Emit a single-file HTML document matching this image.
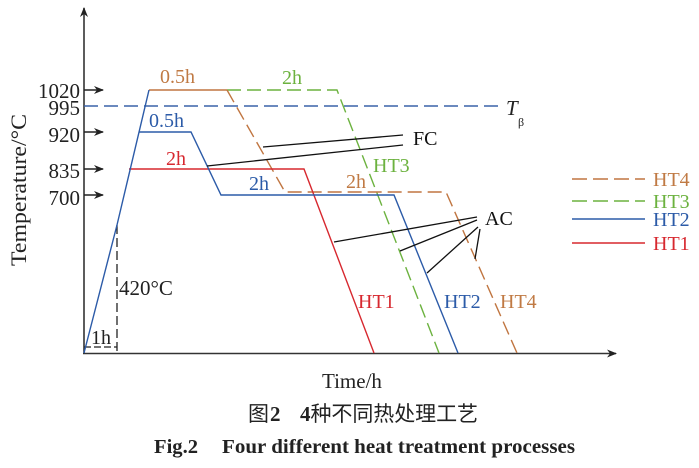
<!DOCTYPE html>
<html>
<head>
<meta charset="utf-8">
<style>
html,body{margin:0;padding:0;background:#fff;}
svg{display:block;}
text{font-family:"Liberation Serif","Noto Serif CJK SC",serif;}
</style>
</head>
<body>
<svg width="699" height="468" viewBox="0 0 699 468" xmlns="http://www.w3.org/2000/svg">
<rect width="699" height="468" fill="#fff"/>
<defs>
<marker id="ah" markerWidth="10" markerHeight="8" refX="9" refY="4" orient="auto" markerUnits="userSpaceOnUse">
<path d="M0,0 L10,4 L0,8 L3,4 Z" fill="#222"/>
</marker>
</defs>

<!-- axes -->
<line x1="84" y1="354" x2="84" y2="8" stroke="#333" stroke-width="1.6" marker-end="url(#ah)"/>
<line x1="83" y1="353.5" x2="616" y2="353.5" stroke="#333" stroke-width="1.6" marker-end="url(#ah)"/>

<!-- tick arrows -->
<g stroke="#222" stroke-width="1.4">
<line x1="84" y1="90" x2="103" y2="90" marker-end="url(#ah)"/>
<line x1="84" y1="132" x2="103" y2="132" marker-end="url(#ah)"/>
<line x1="84" y1="169" x2="103" y2="169" marker-end="url(#ah)"/>
<line x1="84" y1="195" x2="103" y2="195" marker-end="url(#ah)"/>
</g>

<!-- tick labels -->
<g font-size="21" fill="#222" text-anchor="end">
<text x="80" y="98">1020</text>
<text x="80" y="115">995</text>
<text x="80" y="142">920</text>
<text x="80" y="178">835</text>
<text x="80" y="205">700</text>
</g>

<!-- y label -->
<text transform="translate(26,190) rotate(-90)" font-size="22" fill="#222" text-anchor="middle" textLength="152" lengthAdjust="spacingAndGlyphs">Temperature/°C</text>

<!-- T beta line -->
<line x1="84" y1="106" x2="502" y2="106" stroke="#3a62a8" stroke-width="1.5" stroke-dasharray="14,6"/>
<text x="506" y="115" font-size="21" font-style="italic" fill="#222">T</text>
<text x="518" y="126" font-size="12" fill="#222">β</text>

<!-- 420C dashed markers -->
<line x1="117" y1="225" x2="117" y2="353" stroke="#222" stroke-width="1.3" stroke-dasharray="9,4"/>
<line x1="84" y1="347" x2="117" y2="347" stroke="#222" stroke-width="1.3" stroke-dasharray="7,3"/>
<text x="91" y="344" font-size="20" fill="#222">1h</text>
<text x="119" y="295" font-size="21" fill="#222">420°C</text>

<!-- green HT3 -->
<polyline points="227,90 337,90 439,353" fill="none" stroke="#6cb23f" stroke-width="1.4" stroke-dasharray="14,6"/>
<!-- orange HT4 -->
<line x1="149" y1="90" x2="227" y2="90" stroke="#c07540" stroke-width="1.5"/>
<polyline points="227,90 285,192 446,192 517,353" fill="none" stroke="#c07540" stroke-width="1.4" stroke-dasharray="14,6"/>
<!-- red HT1 -->
<polyline points="129,169 304,169 374,353" fill="none" stroke="#d7282f" stroke-width="1.4"/>
<!-- blue HT2 -->
<polyline points="84,353 117,225 149,90" fill="none" stroke="#2c5ba8" stroke-width="1.4"/>
<polyline points="139,132 191,132 221,195 394,195 458,353" fill="none" stroke="#2c5ba8" stroke-width="1.4"/>

<!-- leader lines -->
<g stroke="#111" stroke-width="1.3">
<line x1="263" y1="147" x2="403" y2="135"/>
<line x1="207" y1="166" x2="403" y2="145"/>
<line x1="334" y1="242" x2="477" y2="217"/>
<line x1="400" y1="251" x2="477" y2="220"/>
<line x1="427" y1="273" x2="478" y2="227"/>
<line x1="475" y1="259" x2="480" y2="229"/>
</g>

<!-- in-plot labels -->
<g font-size="20">
<text x="160" y="83" fill="#c07a44">0.5h</text>
<text x="282" y="84" fill="#6cb23f">2h</text>
<text x="149" y="127" fill="#2c5ba8">0.5h</text>
<text x="166" y="165" fill="#d7282f">2h</text>
<text x="249" y="190" fill="#2c5ba8">2h</text>
<text x="346" y="188" fill="#c07a44">2h</text>
<text x="413" y="145" fill="#111">FC</text>
<text x="373" y="172" fill="#6cb23f">HT3</text>
<text x="485" y="225" fill="#111">AC</text>
<text x="358" y="308" fill="#d7282f">HT1</text>
<text x="444" y="308" fill="#2c5ba8">HT2</text>
<text x="500" y="308" fill="#c07a44">HT4</text>
</g>

<!-- legend -->
<line x1="572" y1="179" x2="645" y2="179" stroke="#c07540" stroke-width="1.4" stroke-dasharray="15,6"/>
<line x1="572" y1="201" x2="645" y2="201" stroke="#6cb23f" stroke-width="1.4" stroke-dasharray="15,6"/>
<line x1="572" y1="219" x2="645" y2="219" stroke="#2c5ba8" stroke-width="1.4"/>
<line x1="572" y1="243" x2="645" y2="243" stroke="#d7282f" stroke-width="1.4"/>
<g font-size="20">
<text x="653" y="186" fill="#c07a44">HT4</text>
<text x="653" y="208" fill="#6cb23f">HT3</text>
<text x="653" y="226" fill="#2c5ba8">HT2</text>
<text x="653" y="250" fill="#d7282f">HT1</text>
</g>

<!-- x label -->
<text x="322" y="388" font-size="21" fill="#222">Time/h</text>

<!-- captions -->
<text x="248" y="421" font-size="21" fill="#222" style="font-family:'Noto Sans CJK SC',sans-serif">图</text>
<text x="270" y="421" font-size="21" font-weight="bold" fill="#222">2</text>
<text x="300" y="421" font-size="21" fill="#222" textLength="178" lengthAdjust="spacing"><tspan font-weight="bold">4</tspan><tspan style="font-family:'Noto Sans CJK SC',sans-serif">种不同热处理工艺</tspan></text>
<text x="154" y="453" font-size="20" font-weight="bold" fill="#222" textLength="44" lengthAdjust="spacingAndGlyphs">Fig.2</text>
<text x="222" y="453" font-size="20" font-weight="bold" fill="#222" textLength="353" lengthAdjust="spacingAndGlyphs">Four different heat treatment processes</text>
</svg>
</body>
</html>
